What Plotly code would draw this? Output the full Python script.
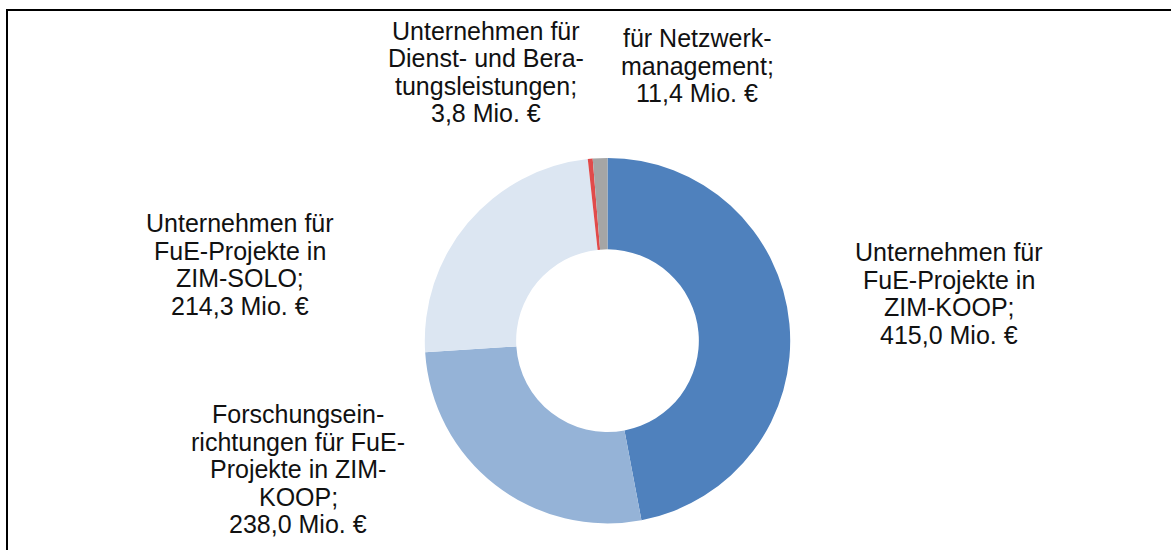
import plotly.graph_objects as go

# ---- data ----
categories = [
    "Unternehmen für FuE-Projekte in ZIM-KOOP",
    "Forschungseinrichtungen für FuE-Projekte in ZIM-KOOP",
    "Unternehmen für FuE-Projekte in ZIM-SOLO",
    "Unternehmen für Dienst- und Beratungsleistungen",
    "für Netzwerkmanagement",
]
values = [415.0, 238.0, 214.3, 3.8, 11.4]
label_lines = [
    ["Unternehmen für", "FuE-Projekte in", "ZIM-KOOP;"],
    ["Forschungsein-", "richtungen für FuE-", "Projekte in ZIM-", "KOOP;"],
    ["Unternehmen für", "FuE-Projekte in", "ZIM-SOLO;"],
    ["Unternehmen für", "Dienst- und Bera-", "tungsleistungen;"],
    ["für Netzwerk-", "management;"],
]
unit = "Mio. €"

# ---- styling / layout ----
W, H = 1171, 550
colors = ["#4F81BD", "#95B3D7", "#DCE6F2", "#E04B4B", "#A5A5A5"]
# label anchor (center x px, first-line center y px) per slice
label_pos = [(949, 252), (298, 414), (240, 223), (486, 31), (697, 38)]
pitch = 27.5
font = dict(family="Liberation Sans, Arial, sans-serif", size=25, color="#111111")

fig = go.Figure(
    go.Pie(
        labels=categories,
        values=values,
        marker=dict(colors=colors, line=dict(width=0)),
        hole=0.5,
        sort=False,
        direction="clockwise",
        rotation=0,
        textinfo="none",
        hoverinfo="skip",
        showlegend=False,
        domain=dict(x=[424.8 / W, 790.2 / W], y=[1 - 524.2 / H, 1 - 157.2 / H]),
    )
)

annotations = []
for lines, v, (cx, cy) in zip(label_lines, values, label_pos):
    all_lines = lines + [f"{v:.1f}".replace(".", ",") + " " + unit]
    for i, t in enumerate(all_lines):
        y = cy + i * pitch
        annotations.append(
            dict(
                text=t,
                x=cx / W,
                y=1 - y / H,
                xref="paper",
                yref="paper",
                xanchor="center",
                yanchor="middle",
                showarrow=False,
                font=font,
            )
        )

shapes = [
    dict(type="line", xref="paper", yref="paper", x0=7 / W, x1=7 / W, y0=0, y1=1 - 9 / H,
         line=dict(color="#000000", width=2)),
    dict(type="line", xref="paper", yref="paper", x0=6 / W, x1=1.0, y0=1 - 10 / H, y1=1 - 10 / H,
         line=dict(color="#000000", width=2)),
]

fig.update_layout(
    width=W,
    height=H,
    margin=dict(l=0, r=0, t=0, b=0),
    paper_bgcolor="#FFFFFF",
    plot_bgcolor="#FFFFFF",
    annotations=annotations,
    shapes=shapes,
)

fig.write_html(
    "out.html",
    config={"displayModeBar": False, "staticPlot": True},
    post_script="document.body.style.margin='0';document.body.style.padding='0';",
)
